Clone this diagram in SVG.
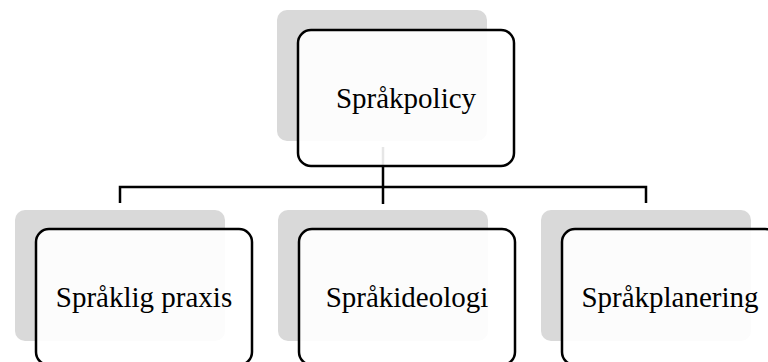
<svg xmlns="http://www.w3.org/2000/svg" width="768" height="362" viewBox="0 0 768 362">
<style>
.back{fill:#d9d9d9}
.front{fill:#ffffff;fill-opacity:0.9;stroke:#000;stroke-width:2.5}
.conn{fill:none;stroke:#000;stroke-width:2.5}
.lbl{font-family:"Liberation Serif","Times New Roman",serif;font-size:29px;fill:#000;text-anchor:middle}
</style>
<rect width="768" height="362" fill="#fff"/>
<g id="backs">
<rect class="back" x="277" y="10" width="210" height="131" rx="10"/>
<rect class="back" x="15" y="210" width="210" height="131" rx="10"/>
<rect class="back" x="278" y="210" width="210" height="131" rx="10"/>
<rect class="back" x="541" y="210" width="210" height="131" rx="10"/>
</g>
<g id="connectors">
<path class="conn" d="M383 147 V187 M120 203 V187 H646 V203 M383 187 V204"/>
</g>
<g id="node-sprakpolicy">
<rect class="front" x="298" y="30" width="216" height="136" rx="13"/>
<text class="lbl" x="406" y="108">Språkpolicy</text>
</g>
<g id="node-spraklig-praxis">
<rect class="front" x="36" y="229" width="216" height="136" rx="13"/>
<text class="lbl" x="144" y="307">Språklig praxis</text>
</g>
<g id="node-sprakideologi">
<rect class="front" x="299" y="229" width="216" height="136" rx="13"/>
<text class="lbl" x="407" y="307">Språkideologi</text>
</g>
<g id="node-sprakplanering">
<rect class="front" x="562" y="229" width="216" height="136" rx="13"/>
<text class="lbl" x="670" y="307">Språkplanering</text>
</g>
</svg>
